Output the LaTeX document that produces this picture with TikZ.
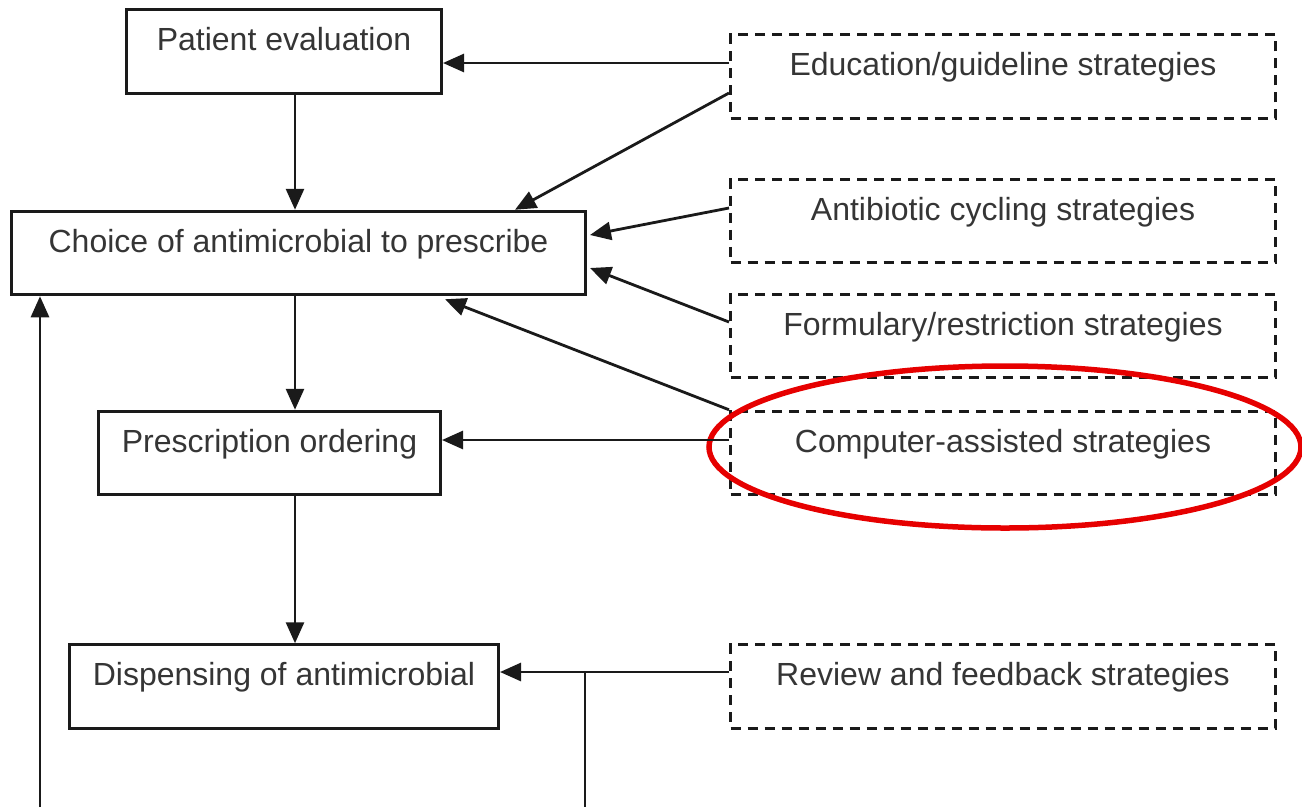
\documentclass[tikz,border=0pt]{standalone}
\usepackage{fontspec}
\setmainfont{Liberation Sans}
\usetikzlibrary{arrows.meta}
\definecolor{txt}{HTML}{353535}
\definecolor{ln}{HTML}{1A1A1A}
\definecolor{hlred}{HTML}{E60000}
\begin{document}
\begin{tikzpicture}[x=1pt,y=1pt,
  box/.style={draw=ln, line width=3pt, rectangle, inner xsep=0pt, inner ysep=0pt,
    text height=41pt, text depth=42.5pt, text=txt,
    font=\fontsize{32}{38}\selectfont},
  solidbox/.style={box},
  dashbox/.style={box, dash pattern=on 10pt off 7pt, minimum width=545pt},
  conn/.style={draw=ln, line width=2.8pt, -{Triangle[length=21pt,width=18pt]}},
  plain/.style={draw=ln, line width=2.8pt},
  ring/.style={draw=hlred, line width=5.5pt}
]
\useasboundingbox (0,0) rectangle (1302,-807);
% main flow
\node[solidbox, minimum width=315pt] (pe) at (284,-51.5) {Patient evaluation};
\node[solidbox, minimum width=574pt] (ch) at (298.5,-253) {Choice of antimicrobial to prescribe};
\node[solidbox, minimum width=342pt] (pr) at (269.5,-453) {Prescription ordering};
\node[solidbox, minimum width=429pt] (dp) at (284,-686.5) {Dispensing of antimicrobial};
% strategies
\node[dashbox] (edu) at (1003,-76.5) {Education/guideline strategies};
\node[dashbox] (ab) at (1003,-221) {Antibiotic cycling strategies};
\node[dashbox] (fm) at (1003,-336) {Formulary/restriction strategies};
\node[dashbox] (ca) at (1003,-453) {Computer-assisted strategies};
\node[dashbox] (rv) at (1003,-686.5) {Review and feedback strategies};
% highlight
\draw[ring] (1005,-447) ellipse [x radius=296pt, y radius=81pt];
% free ends
\coordinate (b1) at (585,-807);
\coordinate (b2) at (40,-807);
\coordinate (j1) at (585,-672);
% main arrows
\draw[conn] ([xshift=11pt]pe.south) -- ([xshift=-3.5pt]ch.north);
\draw[conn] ([xshift=-3.5pt]ch.south) -- ([xshift=25.5pt]pr.north);
\draw[conn] ([xshift=25.5pt]pr.south) -- ([xshift=11pt]dp.north);
% strategy arrows
\draw[conn] ([yshift=13.5pt]edu.west) -- ([yshift=-11.5pt]pe.east);
\draw[conn] ([yshift=-16.5pt]edu.west) -- ([xshift=216.5pt]ch.north);
\draw[conn] ([yshift=13pt]ab.west) -- ([yshift=18pt,xshift=3pt]ch.east);
\draw[conn] ([yshift=14pt]fm.west) -- ([yshift=-15pt,xshift=3pt]ch.east);
\draw[conn] (ca.north west) -- ([xshift=146.5pt,yshift=-3pt]ch.south);
\draw[conn] ([yshift=13pt]ca.west) -- ([yshift=13pt]pr.east);
\draw[conn] ([yshift=14.5pt]rv.west) -- ([yshift=14.5pt]dp.east);
% feedback loop
\draw[plain] (j1) -- (b1);
\draw[conn] (b2) -- ([xshift=-258.5pt]ch.south);
\end{tikzpicture}
\end{document}
